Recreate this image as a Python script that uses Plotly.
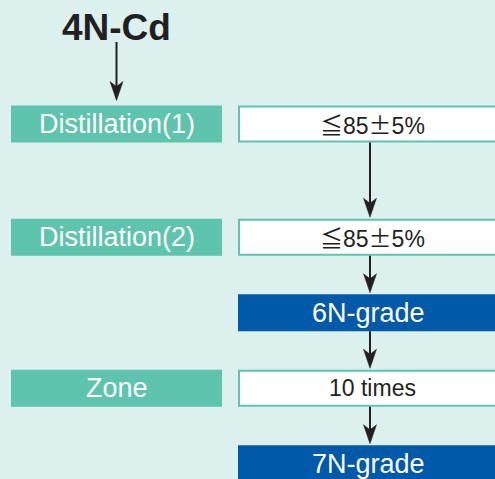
import plotly.graph_objects as go

# ---------------- data ----------------
source_label = "4N-Cd"
process_steps = ["Distillation(1)", "Distillation(2)", "Zone"]
process_rows = [0, 1, 3]
result_labels = ["≦85±5%", "≦85±5%", "6N-grade", "10 times", "7N-grade"]
result_kinds = ["condition", "condition", "grade", "condition", "grade"]
row_slots = [0, 1.5, 2.5, 3.5, 4.5]

# ---------------- style / layout ----------------
W, H = 495, 479
BG = "#DCF0EE"
TEAL = "#5EC4AD"
BLUE = "#0059A9"
INK = "#231F20"
FONT = "Liberation Sans, Arial, sans-serif"
CJK = "Noto Sans CJK JP"

TOP0, STEP, BOX_H = 105.5, 75.5, 37.0
LX0, LX1 = 11, 222
RX0, RX1 = 238, 505
LXC = (LX0 + LX1) / 2
RXA = 370


def row_top(slot):
    return TOP0 + STEP * slot


def fmt(s):
    out = ""
    for ch in s:
        if ch in "≦±":
            out += f'<span style="font-family:{CJK}">{ch}</span>'
        else:
            out += ch
    return out


shapes = []
annotations = []


def arrow(x, y0, tip):
    shapes.append(dict(type="line", xref="x", yref="y", x0=x, x1=x, y0=y0, y1=tip - 10,
                       line=dict(color=INK, width=2)))
    path = (f"M{x},{tip} L{x - 6.5},{tip - 19} L{x},{tip - 14} "
            f"L{x + 6.5},{tip - 19} Z")
    shapes.append(dict(type="path", xref="x", yref="y", path=path,
                       fillcolor=INK, line=dict(color=INK, width=0.5)))


# left process boxes
for label, r in zip(process_steps, process_rows):
    t = row_top(row_slots[r])
    shapes.append(dict(type="rect", xref="x", yref="y", x0=LX0, x1=LX1, y0=t, y1=t + BOX_H,
                       fillcolor=TEAL, line=dict(width=0)))
    annotations.append(dict(x=LXC, y=t + BOX_H / 2, xref="x", yref="y", text=label,
                            showarrow=False, xanchor="center", yanchor="middle",
                            font=dict(family=FONT, size=27, color="white")))

# right result boxes
for label, kind, slot in zip(result_labels, result_kinds, row_slots):
    t = row_top(slot)
    if kind == "grade":
        shapes.append(dict(type="rect", xref="x", yref="y", x0=RX0, x1=RX1, y0=t, y1=t + BOX_H,
                           fillcolor=BLUE, line=dict(width=0)))
        annotations.append(dict(x=RXA - 2, y=t + BOX_H / 2, xref="x", yref="y", text=label,
                                showarrow=False, xanchor="center", yanchor="middle",
                                font=dict(family=FONT, size=27, color="white")))
    else:
        shapes.append(dict(type="rect", xref="x", yref="y", x0=RX0 + 1, x1=RX1, y0=t + 1,
                           y1=t + BOX_H - 1, fillcolor="white", line=dict(color=TEAL, width=2)))
        annotations.append(dict(x=RXA + 2, y=t + BOX_H / 2, xref="x", yref="y", text=fmt(label),
                                showarrow=False, xanchor="center", yanchor="middle",
                                font=dict(family=FONT, size=23, color=INK)))

# arrows between result boxes
for a, b in zip(row_slots[:-1], row_slots[1:]):
    arrow(RXA, row_top(a) + BOX_H, row_top(b) - 1.5)

# source label and arrow
annotations.append(dict(x=LXC, y=27, xref="x", yref="y", text=source_label, showarrow=False,
                        xanchor="center", yanchor="middle",
                        font=dict(family=FONT, size=37, color=INK, weight="bold")))
arrow(LXC, 42, row_top(row_slots[process_rows[0]]) - 5)

fig = go.Figure()
fig.update_layout(
    width=W, height=H, margin=dict(l=0, r=0, t=0, b=0),
    paper_bgcolor=BG, plot_bgcolor=BG,
    xaxis=dict(range=[0, W], visible=False, fixedrange=True),
    yaxis=dict(range=[H, 0], visible=False, fixedrange=True),
    shapes=shapes, annotations=annotations, showlegend=False,
)
fig.write_html(
    "out.html",
    config={"displayModeBar": False},
    post_script="document.body.style.margin='0';document.body.style.overflow='hidden';",
)
